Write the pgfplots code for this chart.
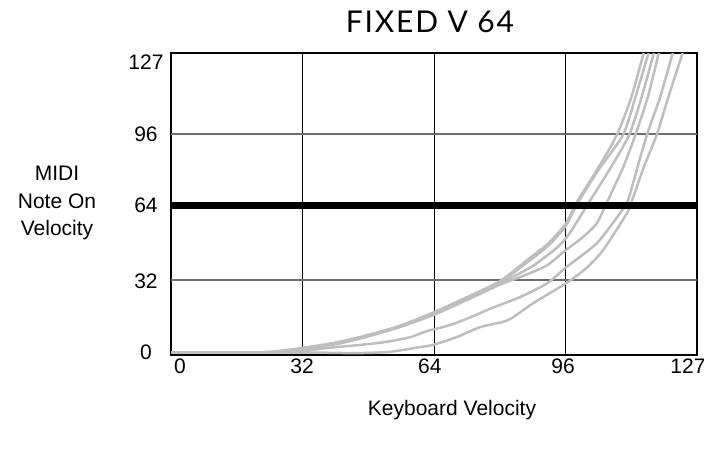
\documentclass[border=0pt]{standalone}
\usepackage{fontspec}
\setmainfont{Liberation Sans}
\newfontfamily\titlefont[LetterSpace=6]{Lato}
\usepackage{pgfplots}
\pgfplotsset{compat=1.18}
\definecolor{curve}{RGB}{190,190,190}
\definecolor{hgrid}{RGB}{110,110,110}
\begin{document}
\begin{tikzpicture}
\useasboundingbox (0,0) rectangle (704pt,451pt);
\begin{axis}[
  at={(171pt,96pt)}, anchor=south west,
  scale only axis, width=526pt, height=302pt,
  xmin=0, xmax=128, ymin=0, ymax=129,
  xtick={2.2,31.9,63,95.4,125.8},
  xticklabels={0,32,64,96,127},
  ytick={1.3,31.6,64,94.4,125.2},
  yticklabels={0,32,64,96,127},
  tick label style={font=\fontsize{21}{25}\selectfont},
  yticklabel style={anchor=center, xshift=-25pt},
  /pgf/number format/assume math mode=true,
  major tick length=0pt,
  axis line style={line width=2.5pt},
  clip=true,
]
\draw[black, line width=1pt] (axis cs:32,0) -- (axis cs:32,129);
\draw[black, line width=1pt] (axis cs:64,0) -- (axis cs:64,129);
\draw[black, line width=1pt] (axis cs:96,0) -- (axis cs:96,129);
\draw[hgrid, line width=1.5pt] (axis cs:0,32) -- (axis cs:128,32);
\draw[hgrid, line width=1.5pt] (axis cs:0,94.4) -- (axis cs:128,94.4);
% A1
\addplot[curve, line width=2.5pt, no marks, line join=round, smooth, tension=0.4] coordinates {(0,1) (20,1) (26,1.7) (32,3) (40,5.3) (46,7.7) (55,12) (64,18.3) (72,24.7) (80,31.5) (87,41) (92,48) (96,56) (99,66) (104,80) (108.5,94) (112,110) (115,129)};
% A2
\addplot[curve, line width=2.5pt, no marks, line join=round, smooth, tension=0.4] coordinates {(0,1) (20,1) (27,1.5) (32,2.8) (40,5) (46,7.5) (55,12) (64,18) (72,24.5) (80,31) (87,40) (92,47) (96,55) (99,65) (104,79) (110,94) (113,110) (116.2,129)};
% A3
\addplot[curve, line width=2.5pt, no marks, line join=round, smooth, tension=0.4] coordinates {(0,1) (22,1) (28,1.5) (32,2.6) (40,4.8) (46,7.3) (55,11.8) (64,17.6) (72,24) (80,30.5) (88,38) (94,46) (97,52) (102,66) (107,80) (111.5,94) (114.5,110) (117.5,129)};
% M
\addplot[curve, line width=2.5pt, no marks, line join=round, smooth, tension=0.4] coordinates {(0,1) (22,1) (28,1.5) (32,2.5) (40,4.6) (46,7) (55,11.5) (64,17.2) (72,23.5) (80,30) (86,34) (91.5,38.3) (96,44.7) (100,50) (103.6,56.2) (106.3,66) (110,80) (113,94) (116,110) (118.7,129)};
% L2
\addplot[curve, line width=2.5pt, no marks, line join=round, smooth, tension=0.4] coordinates {(0,1) (25,1) (32,1.7) (38,3) (46,4.3) (52,5.5) (58,7.5) (62.3,10.2) (67.9,12.8) (72.3,15.7) (78,20) (84.9,24.7) (91.5,30.6) (96.1,37.4) (103.6,47.7) (109.2,60.4) (111.2,66) (113.5,80) (115.8,94) (119,110) (122.1,129)};
% L1
\addplot[curve, line width=2.5pt, no marks, line join=round, smooth, tension=0.4] coordinates {(0,1) (35,1) (45,0.8) (53,1.3) (60.6,3.4) (63.7,4.3) (69.6,7.7) (75.2,11.9) (82,14.9) (88.1,22.1) (96.1,30.6) (101,37) (105.1,44.7) (110.9,60.4) (112.2,66) (115,80) (118.2,94) (121,110) (124.5,129)};
\addplot[black, line width=7pt, no marks] coordinates {(0,64) (128,64)};
\end{axis}
\node[font=\fontsize{21}{25}\selectfont] at (452pt,41pt) {Keyboard Velocity};
\node[font=\fontsize{21}{27.5}\selectfont, align=center] at (57pt,248pt) {MIDI\\Note On\\Velocity};
\node[font=\titlefont\fontsize{30}{36}\selectfont] at (430pt,429pt) {FIXED V 64};
\end{tikzpicture}
\end{document}
